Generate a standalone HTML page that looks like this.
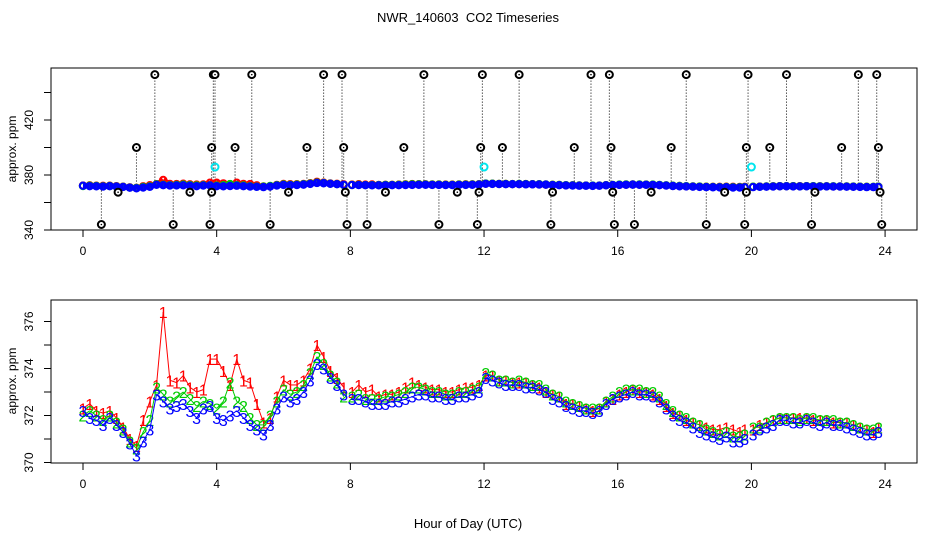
<!DOCTYPE html>
<html><head><meta charset="utf-8"><style>
body{margin:0;background:#fff}
svg{display:block;font-family:"Liberation Sans",sans-serif}
</style></head><body>
<svg id="chart" width="936" height="540" viewBox="0 0 936 540">
<text x="468" y="22" text-anchor="middle" font-size="13" style="white-space:pre">NWR_140603  CO2 Timeseries</text>
<text x="468" y="528" text-anchor="middle" font-size="13">Hour of Day (UTC)</text>
<g id="top"></g>
<g id="bot"></g>
</svg>
<script>
const hours=[0,0.2,0.4,0.6,0.8,1,1.2,1.4,1.6,1.8,2,2.2,2.4,2.6,2.8,3,3.2,3.4,3.6,3.8,4,4.2,4.4,4.6,4.8,5,5.2,5.4,5.6,5.8,6,6.2,6.4,6.6,6.8,7,7.2,7.4,7.6,7.8,
8.05,8.25,8.45,8.65,8.85,9.05,9.25,9.45,9.65,9.85,10.05,10.25,10.45,10.65,10.85,11.05,11.25,11.45,11.65,11.85,
12.05,12.25,12.45,12.65,12.85,13.05,13.25,13.45,13.65,13.85,14.05,14.25,14.45,14.65,14.85,15.05,15.25,15.45,15.65,15.85,
16.05,16.25,16.45,16.65,16.85,17.05,17.25,17.45,17.65,17.85,18.05,18.25,18.45,18.65,18.85,19.05,19.25,19.45,19.65,19.8,
20.05,20.25,20.45,20.65,20.85,21.05,21.25,21.45,21.65,21.85,22.05,22.25,22.45,22.65,22.85,23.05,23.25,23.45,23.65,23.8];
const seg3=[372.2,371.9,371.8,371.6,371.9,371.6,371.3,370.8,370.3,370.9,371.4,372.9,372.6,372.3,372.4,372.5,372.2,371.9,372.3,372.4,371.9,371.8,372.0,372.2,371.9,371.6,371.4,371.2,371.6,372.3,372.8,372.6,372.7,373.0,373.5,374.2,374.0,373.6,373.3,372.9,
372.7,372.7,372.6,372.5,372.5,372.5,372.6,372.6,372.7,372.8,372.9,372.9,372.8,372.8,372.7,372.7,372.8,372.8,372.9,373.0,
373.6,373.5,373.4,373.3,373.3,373.3,373.2,373.2,373.1,373.0,372.7,372.6,372.4,372.3,372.2,372.2,372.1,372.2,372.5,372.7,
372.8,372.9,373.0,372.9,372.9,372.8,372.6,372.3,372.0,371.8,371.7,371.5,371.3,371.2,371.1,371.0,371.1,370.9,370.9,371.0,
371.2,371.4,371.5,371.6,371.8,371.8,371.7,371.7,371.8,371.7,371.6,371.7,371.6,371.6,371.5,371.4,371.3,371.2,371.2,371.3];
const seg2=[372.0,372.2,372.0,371.8,372.0,371.7,371.4,370.9,370.6,371.3,371.8,373.2,372.9,372.6,372.8,373.0,372.7,372.4,372.6,372.5,372.3,372.6,373.4,372.6,372.4,371.9,371.6,371.6,372.0,372.6,373.1,372.9,373.0,373.3,373.8,374.5,374.2,373.7,373.4,372.8,
372.8,372.9,372.7,372.7,372.7,372.8,372.8,372.9,373.0,373.2,373.2,373.1,373.0,373.0,372.9,372.9,373.0,373.0,373.1,373.2,
373.8,373.7,373.5,373.5,373.4,373.5,373.4,373.3,373.3,373.1,372.9,372.8,372.6,372.5,372.4,372.3,372.3,372.3,372.6,372.8,
373.0,373.1,373.1,373.1,373.0,373.0,372.8,372.5,372.2,372.0,371.9,371.7,371.6,371.4,371.3,371.2,371.3,371.1,371.1,371.2,
371.5,371.5,371.7,371.8,371.9,371.9,371.9,371.8,371.9,371.9,371.8,371.8,371.8,371.7,371.7,371.6,371.5,371.4,371.4,371.5];
const seg1=[372.3,372.5,372.2,372.1,372.2,371.9,371.5,371.0,370.7,371.8,372.6,373.3,376.4,373.5,373.4,373.7,373.2,373.0,373.1,374.4,374.4,373.9,373.3,374.4,373.5,373.4,372.5,371.7,371.9,372.8,373.5,373.3,373.3,373.5,374.0,375.0,374.5,373.9,373.6,373.2,
373.0,373.3,373.0,373.1,372.8,372.9,372.9,373.0,373.2,373.4,373.3,373.2,373.1,373.1,373.0,373.0,373.1,373.2,373.2,373.3,
373.7,373.7,373.5,373.5,373.4,373.4,373.4,373.3,373.2,373.0,372.9,372.8,372.5,372.5,372.4,372.3,372.2,372.3,372.6,372.7,
372.9,373.0,373.1,373.0,373.0,372.9,372.7,372.4,372.1,372.0,371.8,371.7,371.6,371.5,371.4,371.4,371.5,371.4,371.3,371.4,
371.4,371.6,371.7,371.8,371.9,371.9,371.9,371.9,371.9,371.8,371.8,371.8,371.7,371.7,371.7,371.6,371.5,371.4,371.3,371.5];
const outHours=[2.15,3.9,3.95,5.05,7.2,7.75,10.2,11.95,13.05,15.2,15.75,18.05,19.9,21.05,23.2,23.75,
1.6,3.85,4.55,6.7,7.8,9.6,11.9,12.55,14.7,15.8,17.6,19.85,20.55,22.7,23.8,
1.05,3.2,3.85,6.15,7.85,9.05,11.2,11.85,14.05,15.85,17.0,19.2,19.85,21.9,23.85,
0.55,2.7,3.8,5.6,7.9,8.5,10.65,11.8,14.0,15.9,16.5,18.65,19.8,21.8,23.9];
const outVals=[453,453,453,453,453,453,453,453,453,453,453,453,453,453,453,453,
400,400,400,400,400,400,400,400,400,400,400,400,400,400,400,
367.5,367.5,367.5,367.5,367.5,367.5,367.5,367.5,367.5,367.5,367.5,367.5,367.5,367.5,367.5,
344,344,344,344,344,344,344,344,344,344,344,344,344,344,344];
const cyanHours=[3.95,12.0,20.0];
const cyanVals=[385.8,385.8,385.8];
const xTicks=[0,4,8,12,16,20,24];
const topTicks=[340,360,380,400,420,440];
const topLabels=[340,380,420];
const botTicks=[370,371,372,373,374,375,376];
const botLabels=[370,372,374,376];

const NS='http://www.w3.org/2000/svg';
function mk(parent,tag,attrs){const e=document.createElementNS(NS,tag);for(const k in attrs)e.setAttribute(k,attrs[k]);parent.appendChild(e);return e;}
const X=h=>83+h*33.42;
const Ytop=v=>230-(v-340)*1.375;
const Ybot=v=>462.5-(v-370)*23.5;
const gTop=document.getElementById('top'), gBot=document.getElementById('bot');

function frame(g,y0,y1,name){
  const r=mk(g,'rect',{x:51,y:y0,width:866,height:y1-y0,fill:'none',stroke:'#000','stroke-width':1});
  
  
  xTicks.forEach(t=>{
    const l=mk(g,'line',{x1:X(t),x2:X(t),y1:y1,y2:y1+7,stroke:'#000'});
    
    
    const tx=mk(g,'text',{x:X(t),y:y1+25,'text-anchor':'middle','font-size':12});
    tx.textContent=t;
    
    
  });
}
function yaxis(g,ticks,labels,Y,name,cy){
  ticks.forEach(t=>{
    const l=mk(g,'line',{x1:44,x2:51,y1:Y(t),y2:Y(t),stroke:'#000'});
    
    
  });
  labels.forEach(t=>{
    const tx=mk(g,'text',{x:0,y:0,'text-anchor':'middle','font-size':12,transform:`translate(33,${Y(t)}) rotate(-90)`});
    tx.textContent=t;
    
    
  });
  const tt=mk(g,'text',{x:0,y:0,'text-anchor':'middle','font-size':12,transform:`translate(16,${cy}) rotate(-90)`});
  tt.textContent='approx. ppm';
  
  
}
frame(gTop,68,230,'top');
yaxis(gTop,topTicks,topLabels,Ytop,'top',149);
frame(gBot,300,463,'bottom');
yaxis(gBot,botTicks,botLabels,Ybot,'bottom',381);

outHours.forEach((h,i)=>{
  const l=mk(gTop,'line',{x1:X(h),x2:X(h),y1:Ytop(outVals[i]),y2:Ytop(373),stroke:'#000','stroke-width':1,'stroke-dasharray':'1,2'});
  
  
});
[[seg1,'#ff0000'],[seg2,'#00cc00'],[seg3,'#0000ff']].forEach(([arr,c],si)=>{
  for(let i=0;i<arr.length-1;i++){
    if(hours[i+1]-hours[i]>0.22) continue;
    const ln=mk(gTop,'line',{x1:X(hours[i]),y1:Ytop(arr[i]),x2:X(hours[i+1]),y2:Ytop(arr[i+1]),stroke:c,'stroke-width':5});
    
    
  }
  arr.forEach((v,i)=>{
    const cc=mk(gTop,'circle',{cx:X(hours[i]),cy:Ytop(v),r:3.2,fill:'none',stroke:c,'stroke-width':2});
    
    
  });
});
outHours.forEach((h,i)=>{
  const c=mk(gTop,'circle',{cx:X(h),cy:Ytop(outVals[i]),r:3.5,fill:'#fff',stroke:'#000','stroke-width':2});
  
  
  const d=mk(gTop,'circle',{cx:X(h),cy:Ytop(outVals[i]),r:0.8,fill:'#000'});
  
  
});
cyanHours.forEach((h,i)=>{
  const c=mk(gTop,'circle',{cx:X(h),cy:Ytop(cyanVals[i]),r:3.5,fill:'none',stroke:'#00e5ee','stroke-width':2});
  
  
});

[[seg1,'#ff0000','1'],[seg2,'#00cc00','2'],[seg3,'#0000ff','3']].forEach(([arr,c,lab])=>{
  for(let i=0;i<arr.length-1;i++){
    if(hours[i+1]-hours[i]>0.22) continue;
    const ln=mk(gBot,'line',{x1:X(hours[i]),y1:Ybot(arr[i]),x2:X(hours[i+1]),y2:Ybot(arr[i+1]),stroke:c,'stroke-width':1});
    
    
  }
  arr.forEach((v,i)=>{
    const t=mk(gBot,'text',{x:X(hours[i]),y:Ybot(v)+6,'text-anchor':'middle','font-size':16,fill:c});
    t.textContent=lab;
    
    
  });
});
</script>
</body></html>
